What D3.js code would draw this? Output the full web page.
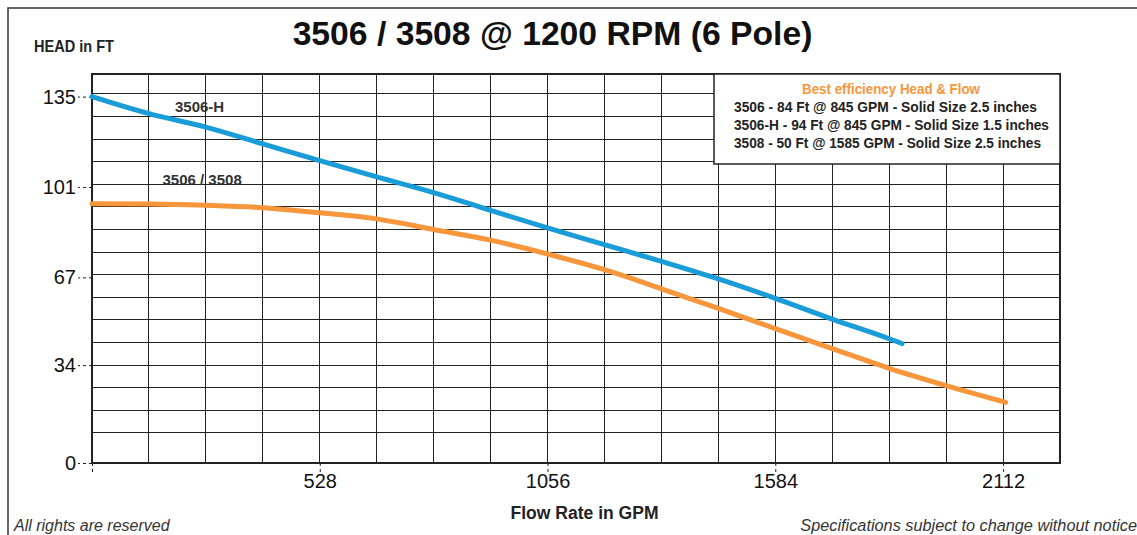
<!DOCTYPE html>
<html>
<head>
<meta charset="utf-8">
<script src="https://cdn.jsdelivr.net/npm/d3@7"></script>
<style>
  body { margin: 0; background: #fff; }
  svg { display: block; font-family: "Liberation Sans", Arial, Helvetica, sans-serif; }
  .cond { font-family: "Liberation Sans Narrow", "Arial Narrow", "Liberation Sans", Arial, sans-serif; font-weight: bold; }
</style>
</head>
<body>
<svg width="1137" height="535"></svg>
<script>
// DATA

var flowTicks = [0, 528, 1056, 1584, 2112];
var headTicks = [0, 34, 67, 101, 135];

// 3506-H (blue)
var gpm3506H  = [0, 132, 264, 396, 528, 660, 792, 924, 1056, 1188, 1320, 1452, 1584, 1716, 1848, 1878];
var head3506H = [135, 128.6, 123.5, 117.2, 110.9, 104.8, 98.9, 92.2, 85.6, 79.3, 73.0, 66.4, 59.1, 51.3, 43.9, 42.1];

// 3506 / 3508 (orange)
var gpm3506  = [0, 132, 264, 396, 528, 660, 792, 924, 1056, 1188, 1320, 1452, 1584, 1716, 1848, 1980, 2118];
var head3506 = [94.7, 94.6, 94.1, 93.2, 91.3, 89.0, 85.0, 81.0, 75.8, 69.9, 62.7, 55.3, 47.7, 40.2, 32.8, 26.3, 20.0];

var legendLines = [
  "3506 - 84 Ft @ 845 GPM - Solid Size 2.5 inches",
  "3506-H - 94 Ft @ 845 GPM - Solid Size 1.5 inches",
  "3508 - 50 Ft @ 1585 GPM - Solid Size 2.5 inches"
];
var legendWidths = [303, 315, 307];

// SETUP

var svg = d3.select("svg"),
    plotLeft = 92, plotRight = 1060, plotTop = 74, plotBottom = 463,
    cell = 22.43,
    blue = "#1a9cd8", orange = "#f7963a", ink = "#222";

var x = d3.scaleLinear().domain([0, 2244]).range([plotLeft, plotRight]);
// the bottom row of the printed grid is taller than the rest
var y = d3.scaleLinear().domain([0, 8.5, 143.5]).range([plotBottom, plotTop + 16 * cell, plotTop]);

// outer frame (top + left only)
svg.append("path")
    .attr("d", "M8,535 V8 H1137")
    .attr("fill", "none").attr("stroke", "#333").attr("stroke-width", 1.5);

// GRID

var grid = svg.append("g").attr("shape-rendering", "crispEdges");

grid.selectAll(".v").data(d3.range(132, 2244, 132))
  .enter().append("line")
    .attr("x1", function(d) { return x(d); }).attr("x2", function(d) { return x(d); })
    .attr("y1", plotTop).attr("y2", plotBottom)
    .attr("stroke", ink).attr("stroke-width", 1);

grid.selectAll(".h").data(d3.range(8.5, 143, 8.5))
  .enter().append("line")
    .attr("x1", plotLeft).attr("x2", plotRight)
    .attr("y1", function(d) { return y(d); }).attr("y2", function(d) { return y(d); })
    .attr("stroke", ink).attr("stroke-width", 1);

svg.append("rect")
    .attr("x", plotLeft).attr("y", plotTop)
    .attr("width", plotRight - plotLeft).attr("height", plotBottom - plotTop)
    .attr("fill", "none").attr("stroke", ink).attr("stroke-width", 2);

// AXES

var xAxis = svg.append("g")
    .attr("transform", "translate(0," + plotBottom + ")")
    .call(d3.axisBottom(x).tickValues(flowTicks).tickSize(9).tickPadding(2)
      .tickFormat(function(d) { return d === 0 ? "" : d; }));

var yAxis = svg.append("g")
    .attr("transform", "translate(" + plotLeft + ",0)")
    .call(d3.axisLeft(y).tickValues(headTicks).tickSize(14).tickPadding(2));

[xAxis, yAxis].forEach(function(a) {
  a.select(".domain").remove();
  a.selectAll(".tick line").attr("stroke", ink).attr("stroke-dasharray", "3,3");
  a.selectAll(".tick text")
    .attr("fill", "#111")
    .style("font-family", "'Liberation Sans', Arial, sans-serif")
    .style("font-size", "20px");
});

// CURVES

var line = d3.line()
    .x(function(d) { return x(d[0]); })
    .y(function(d) { return y(d[1]); })
    .curve(d3.curveMonotoneX);

svg.append("path")
    .datum(d3.zip(gpm3506, head3506))
    .attr("d", line)
    .attr("fill", "none").attr("stroke", orange)
    .attr("stroke-width", 5).attr("stroke-linecap", "round");

svg.append("path")
    .datum(d3.zip(gpm3506H, head3506H))
    .attr("d", line)
    .attr("fill", "none").attr("stroke", blue)
    .attr("stroke-width", 5).attr("stroke-linecap", "round");

svg.append("text").attr("x", 175).attr("y", 111.5)
    .attr("fill", "#333").attr("font-weight", "bold").attr("font-size", 15)
    .text("3506-H");
svg.append("text").attr("x", 162.5).attr("y", 184.5)
    .attr("fill", "#333").attr("font-weight", "bold").attr("font-size", 15)
    .text("3506 / 3508");

// LEGEND BOX

var legend = svg.append("g");
legend.append("rect")
    .attr("x", 714).attr("y", plotTop).attr("width", plotRight - 714).attr("height", 90)
    .attr("fill", "#fff").attr("stroke", ink).attr("stroke-width", 1.5);
legend.append("text").attr("class", "cond")
    .attr("x", 891).attr("y", 93.5).attr("text-anchor", "middle")
    .attr("fill", orange).attr("font-size", 15)
    .attr("textLength", 178).attr("lengthAdjust", "spacingAndGlyphs")
    .text("Best efficiency Head & Flow");
legend.selectAll(".ll").data(legendLines)
  .enter().append("text").attr("class", "cond")
    .attr("x", 734).attr("y", function(d, i) { return 111.7 + i * 18.3; })
    .attr("fill", ink).attr("font-size", 15)
    .attr("textLength", function(d, i) { return legendWidths[i]; })
    .attr("lengthAdjust", "spacingAndGlyphs")
    .text(function(d) { return d; });

// TITLES

svg.append("text")
    .attr("x", 552.5).attr("y", 45).attr("text-anchor", "middle")
    .attr("font-weight", "bold").attr("font-size", 33.7).attr("fill", "#111")
    .text("3506 / 3508 @ 1200 RPM (6 Pole)");

svg.append("text").attr("class", "cond")
    .attr("x", 34).attr("y", 52).attr("font-size", 17).attr("fill", ink)
    .attr("textLength", 80).attr("lengthAdjust", "spacingAndGlyphs")
    .text("HEAD in FT");

svg.append("text").attr("class", "cond")
    .attr("x", 584.5).attr("y", 519).attr("text-anchor", "middle")
    .attr("font-size", 18).attr("fill", ink)
    .attr("textLength", 148).attr("lengthAdjust", "spacingAndGlyphs")
    .text("Flow Rate in GPM");

svg.append("text")
    .attr("x", 14).attr("y", 530.5).attr("font-style", "italic")
    .attr("font-size", 16).attr("fill", "#333")
    .text("All rights are reserved");

svg.append("text")
    .attr("x", 1137).attr("y", 530.5).attr("text-anchor", "end").attr("font-style", "italic")
    .attr("font-size", 16.3).attr("fill", "#333")
    .text("Specifications subject to change without notice");
</script>
</body>
</html>
